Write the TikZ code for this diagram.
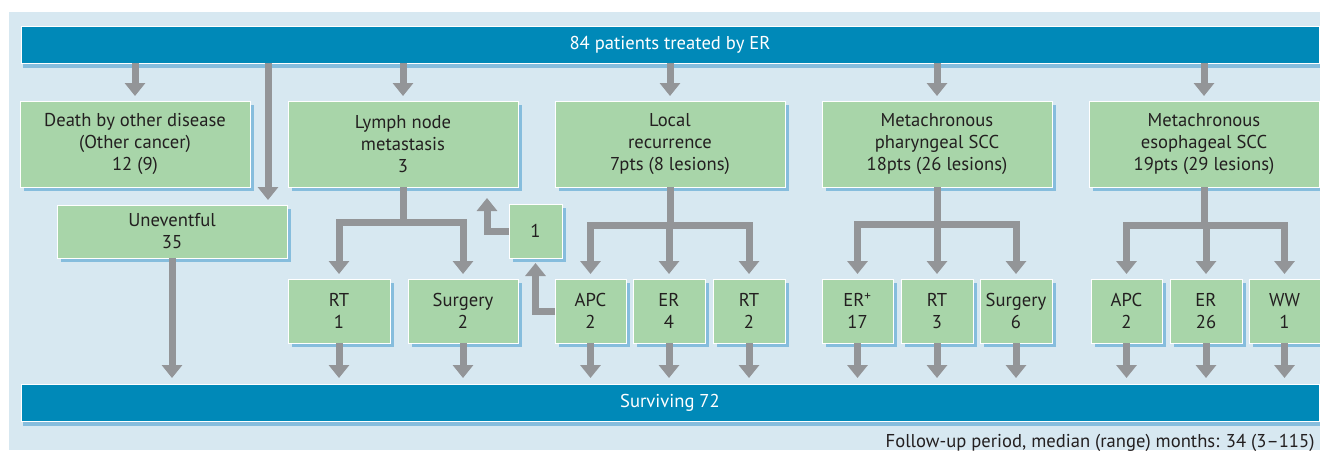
\documentclass[tikz,border=0pt]{standalone}
\usepackage{fontspec}
\setmainfont{PT Sans}
\usepackage{xcolor}
\usepackage{tikz}
\usetikzlibrary{arrows.meta}
\usetikzlibrary{shadows}
\definecolor{bgblue}{HTML}{D7E8F1}
\definecolor{barblue}{HTML}{0089B8}
\definecolor{boxgreen}{HTML}{A8D5A9}
\definecolor{arrowgray}{HTML}{939598}
\definecolor{shadowblue}{HTML}{86BDDD}
\definecolor{textdark}{HTML}{231F20}

\begin{document}
\begin{tikzpicture}[x=1pt,y=-1pt,font=\fontsize{18.6}{22}\selectfont,
  box/.style={draw=white,line width=1pt,fill=boxgreen,text=textdark,align=center,
    anchor=north west,inner sep=0pt,outer sep=0pt,
    drop shadow={shadow xshift=4pt,shadow yshift=-4pt,fill=shadowblue,opacity=1}},
  bigbox/.style={box,minimum width=230pt,minimum height=86pt},
  smallbox/.style={box,minimum height=64pt},
  bar/.style={draw=white,line width=1pt,fill=barblue,text=white,anchor=north west,
    inner sep=0pt,outer sep=0pt,minimum width=1298pt,minimum height=37pt,
    drop shadow={shadow xshift=2pt,shadow yshift=-5pt,fill=shadowblue,opacity=1}},
  arr/.style={draw=arrowgray,line width=7pt,line join=miter,
    -{Triangle[width=20pt,length=13pt]},shorten >=5pt}]
\useasboundingbox (0,0) rectangle (1320,450);
\fill[bgblue] (9,12) rectangle (1320,450);

% bars
\node[bar] (top) at (21,26) {84 patients treated by ER};
\node[bar] (bottom) at (21,384) {Surviving 72};

% first row
\node[bigbox] (death) at (20,101) {Death by other disease\\(Other cancer)\\12 (9)};
\node[bigbox] (lymph) at (288,101) {Lymph node\\metastasis\\3};
\node[bigbox] (local) at (555,101) {Local\\recurrence\\7pts (8 lesions)};
\node[bigbox] (phar) at (822,101) {Metachronous\\pharyngeal SCC\\18pts (26 lesions)};
\node[bigbox] (esoph) at (1089,101) {Metachronous\\esophageal SCC\\19pts (29 lesions)};

\node[box,minimum width=230pt,minimum height=53pt] (uneventful) at (57,205) {Uneventful\\35};
\node[box,minimum width=53pt,minimum height=54pt] (one) at (509,204) {1};

% treatments
\node[smallbox,minimum width=102pt] (rt1) at (288,279) {RT\\1};
\node[smallbox,minimum width=110pt] (surg2) at (408,279) {Surgery\\2};
\node[smallbox,minimum width=71pt] (apc2) at (555,279) {APC\\2};
\node[smallbox,minimum width=72pt] (er4) at (633,279) {ER\\4};
\node[smallbox,minimum width=72pt] (rt2) at (713,279) {RT\\2};
\node[smallbox,minimum width=71pt] (erplus) at (822,279) {ER\textsuperscript{+}\\17};
\node[smallbox,minimum width=72pt] (rt3) at (901,279) {RT\\3};
\node[smallbox,minimum width=72pt] (surg6) at (980,279) {Surgery\\6};
\node[smallbox,minimum width=71pt] (apc) at (1091,279) {APC\\2};
\node[smallbox,minimum width=72pt] (er26) at (1170,279) {ER\\26};
\node[smallbox,minimum width=71pt] (ww) at (1249,279) {WW\\1};

\node[anchor=base east,text=textdark] (foot) at (1318,447)
  {Follow-up period, median (range) months: 34 (3--115)};

% arrows
\coordinate (longx) at (268,0);
\coordinate (lnup) at (487,187);
\foreach \b in {death,lymph,local,phar,esoph}
  \draw[arr] (\b.north |- top.south) -- (\b.north);
\draw[arr] (longx |- top.south) -- (longx |- uneventful.north);
\foreach \b in {rt1,surg2}
  \draw[arr] (lymph.south) -- ++(0,35) -| (\b.north);
\foreach \b in {apc2,er4,rt2}
  \draw[arr] (local.south) -- ++(0,38) -| (\b.north);
\foreach \b in {erplus,rt3,surg6}
  \draw[arr] (phar.south) -- ++(0,37) -| (\b.north);
\foreach \b in {apc,er26,ww}
  \draw[arr] (esoph.south) -- ++(0,38) -| (\b.north);
\draw[arr,shorten >=11pt] (one.west) -| (lnup);
\draw[arr] (apc2.west) -| (one.south);
\foreach \b in {uneventful,rt1,surg2,apc2,er4,rt2,erplus,rt3,surg6,apc,er26,ww}
  \draw[arr,shorten >=6pt] (\b.south) -- (\b.south |- bottom.north);
\end{tikzpicture}
\end{document}
